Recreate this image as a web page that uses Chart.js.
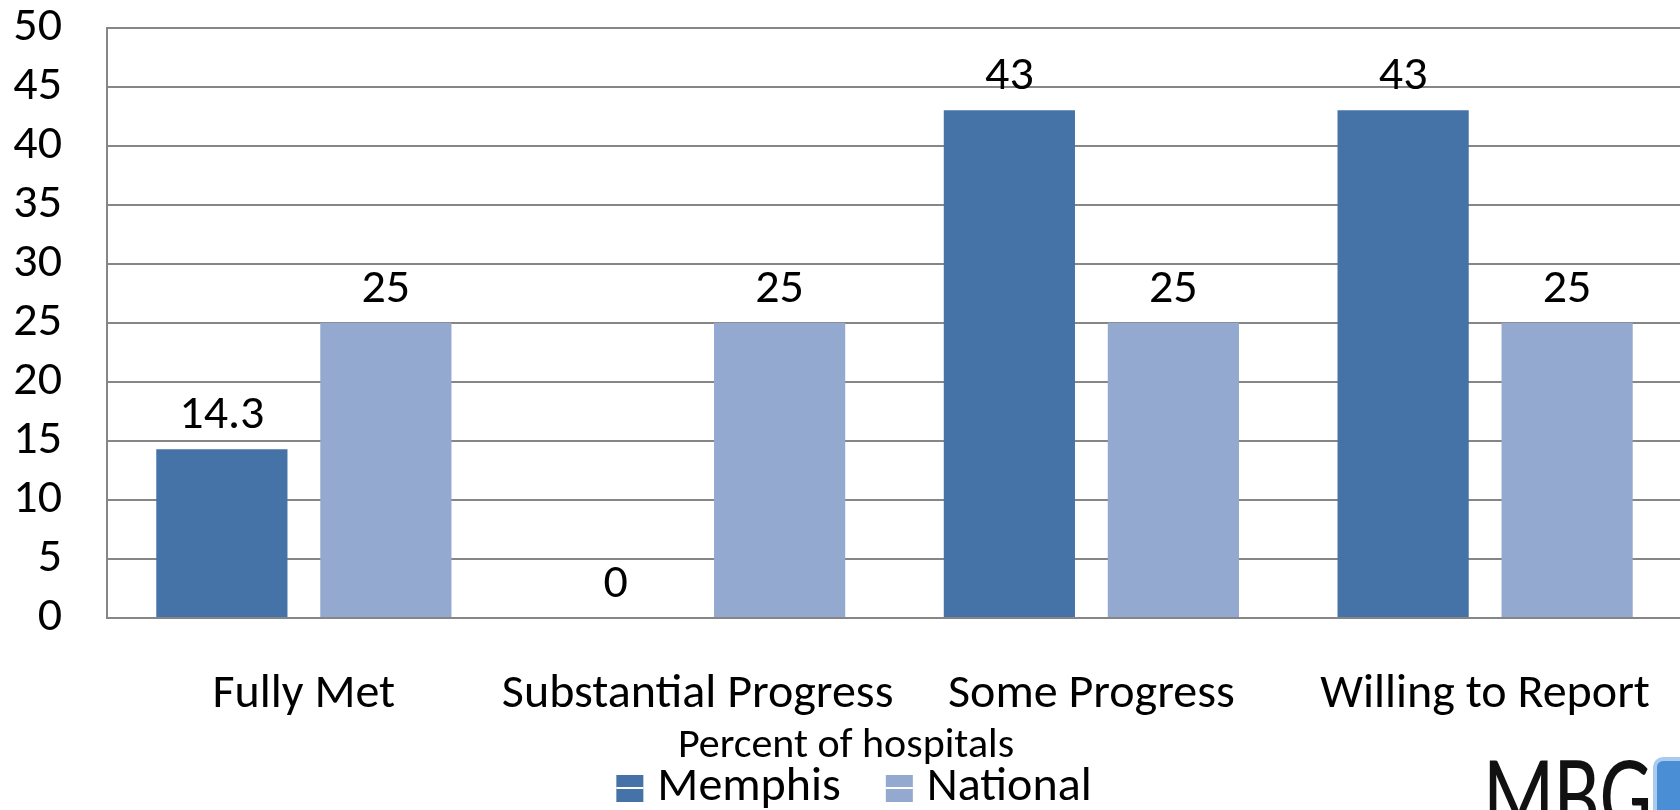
<!DOCTYPE html>
<html>
<head>
<meta charset="utf-8">
<title>Percent of hospitals</title>
<script src="https://cdn.jsdelivr.net/npm/chart.js@4/dist/chart.umd.min.js"></script>
<style>
  html, body { margin: 0; padding: 0; background: #fff; overflow: hidden; }
  #wrap { position: relative; width: 1690px; height: 810px; }
</style>
</head>
<body>
<div id="wrap"><canvas id="barChart"></canvas></div>
<script>
const categories = ['Fully Met', 'Substantial Progress', 'Some Progress', 'Willing to Report'];
const memphisValues = [14.3, 0, 43, 43];
const nationalValues = [25, 25, 25, 25];
const seriesNames = ['Memphis', 'National'];
const yTicks = [0, 5, 10, 15, 20, 25, 30, 35, 40, 45, 50];
const axisTitle = 'Percent of hospitals';

const FONT = "Carlito, 'Open Sans', sans-serif";
const barColors = ['#4572A7', '#94A9D0'];
const gridGray = '#868686';

// numbers on top of each bar
const valueLabels = {
    id: 'valueLabels',
    afterDatasetsDraw(chart) {
        const ctx = chart.ctx;
        ctx.save();
        ctx.font = '48px ' + FONT;
        ctx.fillStyle = '#000';
        ctx.textAlign = 'center';
        ctx.textBaseline = 'alphabetic';
        chart.data.datasets.forEach((ds, i) => {
            chart.getDatasetMeta(i).data.forEach((bar, j) => {
                ctx.fillText(String(ds.data[j]), bar.x, bar.y - 21);
            });
        });
        ctx.restore();
    }
};

// axis title, legend and the logo under the plot
const bottomBlock = {
    id: 'bottomBlock',
    afterDraw(chart) {
        const ctx = chart.ctx;
        ctx.save();
        ctx.fillStyle = '#000';
        ctx.textBaseline = 'alphabetic';

        ctx.font = '42px ' + FONT;
        ctx.textAlign = 'center';
        ctx.fillText(axisTitle, 846, 757);

        // legend
        ctx.font = '48px ' + FONT;
        ctx.textAlign = 'left';
        const boxW = 27, boxH = 27, gap = 14, spacing = 45;
        const items = chart.data.datasets.map(ds => ({
            label: ds.label, color: ds.backgroundColor, w: ctx.measureText(ds.label).width
        }));
        let total = 0;
        items.forEach((it, i) => { total += boxW + gap + it.w + (i ? spacing : 0); });
        let x = 854 - total / 2;
        items.forEach(it => {
            ctx.fillStyle = it.color;
            ctx.fillRect(x, 775, boxW, boxH);
            ctx.fillStyle = '#fff';
            ctx.fillRect(x, 787, boxW, 2);
            ctx.fillStyle = '#000';
            ctx.fillText(it.label, x + boxW + gap, 800);
            x += boxW + gap + it.w + spacing;
        });

        // logo
        ctx.save();
        ctx.translate(1483, 0);
        ctx.scale(0.745, 1);
        ctx.font = '112px ' + FONT;
        ctx.fillStyle = '#111';
        ctx.fillText('MBG', 0, 832);
        ctx.restore();
        ctx.beginPath();
        ctx.roundRect(1655, 759, 60, 80, 8);
        ctx.fillStyle = '#4a8fd6';
        ctx.fill();
        ctx.lineWidth = 4;
        ctx.strokeStyle = '#a9cbee';
        ctx.stroke();
        ctx.restore();
    }
};

const chartData = {
    labels: categories,
    datasets: [{
        label: seriesNames[0],
        data: memphisValues,
        backgroundColor: barColors[0],
        categoryPercentage: 0.833,
        barPercentage: 0.8
    }, {
        label: seriesNames[1],
        data: nationalValues,
        backgroundColor: barColors[1],
        categoryPercentage: 0.833,
        barPercentage: 0.8
    }]
};

const barChart = new Chart(document.getElementById('barChart'), {
    type: 'bar',
    data: chartData,
    options: {
        responsive: true,
        maintainAspectRatio: false,
        animation: false,
        layout: { padding: { top: 0, left: 13, right: 8, bottom: 86 } },
        plugins: {
            legend: { display: false },
            tooltip: { enabled: false }
        },
        scales: {
            x: {
                afterFit: axis => { axis.height = 106; },
                grid: { display: true, drawOnChartArea: false, drawTicks: true, tickLength: 48, tickColor: 'transparent', color: 'transparent' },
                border: { display: true, color: gridGray, width: 2 },
                ticks: { color: '#000', font: { family: FONT, size: 48 }, padding: 0, maxRotation: 0, autoSkip: false }
            },
            y: {
                min: yTicks[0],
                max: yTicks[yTicks.length - 1],
                afterBuildTicks: axis => { axis.ticks = yTicks.map(v => ({ value: v })); },
                afterFit: axis => { axis.width = 94; },
                grid: { color: gridGray, lineWidth: 2, drawTicks: true, tickLength: 45, tickColor: 'transparent' },
                border: { display: true, color: gridGray, width: 2 },
                ticks: { color: '#000', font: { family: FONT, size: 48, lineHeight: 1.15 }, padding: 0, autoSkip: false }
            }
        }
    },
    plugins: [valueLabels, bottomBlock]
});
</script>
</body>
</html>
